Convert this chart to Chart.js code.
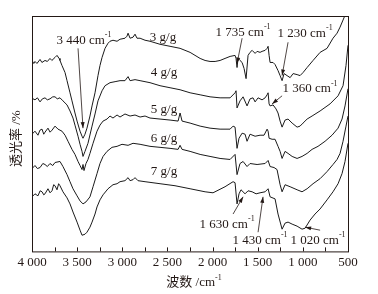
<!DOCTYPE html>
<html>
<head>
<meta charset="utf-8">
<script src="https://cdn.jsdelivr.net/npm/chart.js@4.4.1/dist/chart.umd.min.js"></script>
<style>
  html, body { margin: 0; padding: 0; background: #fff; }
  #wrap { width: 378px; height: 294px; }
</style>
</head>
<body>
<div id="wrap"><canvas id="ftir" width="378" height="294"></canvas></div>
<script>
// FTIR spectra, [wavenumber cm-1, transmittance (offset, arb. units)]
const spec3 = [[4000,189],[3980,186],[3967,188],[3945,186],[3911,190],[3890,187],[3856,189],[3830,188],[3801,191],[3780,189],[3745,192],[3723,194],[3700,191],[3690,189],[3668,184],[3634,177],[3612,169],[3579,157],[3557,149],[3524,137],[3501,129],[3468,119],[3446,114],[3435,112],[3413,116],[3391,122],[3358,134],[3335,144],[3302,157],[3269,174],[3247,184],[3224,192],[3191,201],[3158,206],[3136,208],[3103,209],[3058,208],[3025,210],[2970,211],[2948,213],[2936,216],[2914,211],[2881,212],[2859,215],[2837,211],[2803,211],[2748,209],[2693,208],[2582,205],[2471,203],[2360,201],[2249,197],[2138,191],[2083,189],[2028,188],[1972,188],[1917,189],[1862,191],[1806,193],[1751,194],[1740,191],[1729,182],[1718,191],[1696,189],[1673,187],[1651,181],[1629,171],[1607,194],[1585,197],[1562,199],[1529,196],[1507,198],[1474,197],[1452,198],[1418,199],[1396,201],[1385,203],[1374,194],[1363,187],[1330,187],[1308,185],[1275,179],[1252,174],[1230,169],[1208,176],[1175,174],[1141,172],[1108,176],[1064,175],[1031,174],[998,177],[953,182],[887,189],[809,197],[732,201],[666,211],[621,216],[588,222],[555,229],[527,235]];

const spec4 = [[4000,149],[3985,151],[3967,150],[3940,152],[3911,148],[3885,151],[3856,152],[3830,150],[3801,151],[3770,153],[3745,153],[3720,151],[3690,152],[3657,149],[3612,145],[3579,139],[3546,132],[3524,125],[3490,114],[3468,106],[3446,99],[3435,94],[3413,99],[3380,107],[3335,124],[3302,136],[3269,149],[3224,159],[3191,164],[3136,167],[3080,168],[3025,169],[2970,169],[2936,173],[2914,169],[2859,170],[2803,169],[2693,167],[2582,164],[2471,162],[2360,160],[2249,157],[2138,155],[2028,153],[1917,152],[1806,152],[1751,157],[1740,159],[1729,142],[1696,149],[1662,153],[1618,144],[1585,151],[1552,152],[1529,148],[1496,152],[1452,150],[1418,152],[1396,155],[1385,157],[1374,146],[1363,144],[1330,145],[1297,141],[1275,137],[1252,129],[1230,123],[1197,130],[1164,131],[1119,127],[1064,123],[1031,124],[998,127],[953,131],[898,134],[809,139],[699,146],[610,154],[555,164],[522,184],[500,204]];

const spec5 = [[4000,116],[3967,119],[3934,115],[3912,120],[3889,121],[3870,116],[3856,118],[3823,122],[3800,118],[3778,120],[3745,124],[3712,121],[3668,119],[3634,115],[3601,109],[3557,101],[3524,96],[3490,89],[3468,85],[3446,81],[3435,86],[3424,80],[3402,87],[3380,91],[3358,97],[3324,107],[3280,119],[3247,125],[3213,129],[3169,131],[3136,134],[3103,132],[3058,135],[3025,133],[2970,136],[2914,134],[2859,135],[2803,133],[2748,134],[2693,132],[2582,131],[2471,130],[2382,129],[2360,137],[2338,129],[2249,127],[2138,124],[2028,122],[1917,121],[1806,121],[1773,124],[1751,123],[1729,102],[1707,112],[1673,117],[1640,116],[1618,109],[1585,116],[1529,114],[1474,115],[1430,115],[1396,121],[1385,119],[1374,112],[1341,111],[1308,111],[1275,104],[1252,99],[1230,92],[1197,99],[1164,97],[1119,94],[1064,92],[1009,94],[953,97],[898,101],[832,104],[754,109],[677,115],[610,122],[566,131],[533,144],[500,161]];

const spec6 = [[4000,82],[3967,85],[3940,82],[3911,83],[3880,87],[3856,86],[3830,84],[3801,87],[3770,85],[3745,88],[3690,89],[3657,84],[3612,76],[3579,69],[3546,62],[3501,55],[3468,50],[3435,47],[3402,49],[3358,54],[3324,64],[3280,77],[3247,87],[3213,94],[3169,99],[3114,103],[3058,104],[3003,106],[2936,105],[2881,107],[2803,106],[2693,104],[2582,103],[2471,102],[2382,101],[2360,105],[2338,101],[2249,99],[2138,96],[2028,94],[1917,92],[1806,91],[1751,96],[1729,76],[1696,87],[1662,89],[1618,84],[1585,87],[1507,86],[1418,87],[1385,90],[1363,84],[1319,83],[1286,81],[1252,66],[1230,59],[1197,66],[1141,64],[1064,61],[1009,59],[953,62],[887,67],[809,72],[732,79],[666,86],[621,91],[588,97],[555,109],[522,124],[500,134]];

const spec7 = [[4000,54],[3967,57],[3934,55],[3910,60],[3889,59],[3870,56],[3856,57],[3823,62],[3800,58],[3778,60],[3760,66],[3745,65],[3723,61],[3705,67],[3690,65],[3657,59],[3612,53],[3579,47],[3546,39],[3501,29],[3468,21],[3446,16],[3413,17],[3391,19],[3358,24],[3335,29],[3302,37],[3280,44],[3247,51],[3213,56],[3158,62],[3103,66],[3058,67],[3025,69],[2970,70],[2936,73],[2914,70],[2881,71],[2859,73],[2826,70],[2748,69],[2582,67],[2416,65],[2249,62],[2083,59],[1995,58],[1862,64],[1773,69],[1751,68],[1729,47],[1707,57],[1685,61],[1640,57],[1607,60],[1562,59],[1518,57],[1474,58],[1418,59],[1385,62],[1363,54],[1308,52],[1275,37],[1230,22],[1197,28],[1164,29],[1119,27],[1064,25],[1009,22],[975,23],[920,31],[865,37],[809,42],[732,51],[666,59],[610,67],[566,77],[533,89],[500,107]];

const doses = ['3 g/g', '4 g/g', '5 g/g', '6 g/g', '7 g/g'];
const xTicks = [4000, 3500, 3000, 2500, 2000, 1500, 1000, 500];

// text notes: [wavenumber, T, text, superscript]
const doseNotes = [[2549, 212], [2538, 177], [2538, 140], [2538, 112], [2538, 79]];
const peakNotes = [
  [3424, 209, '3 440 cm', '-1'],
  [1662, 217, '1 735 cm', '-1'],
  [975, 216, '1 230 cm', '-1'],
  [920, 161, '1 360 cm', '-1'],
  [1839, 27, '1 630 cm', '-1'],
  [1474, 11, '1 430 cm', '-1'],
  [832, 11, '1 020 cm', '-1']
];
// arrows: [fromWn, fromT, toWn, toT]
const peakArrows = [
  [3490, 201, 3435, 122],
  [1673, 211, 1729, 186],
  [1164, 207, 1230, 174],
  [1230, 154, 1341, 146],
  [1773, 37, 1662, 54],
  [1496, 19, 1441, 54],
  [809, 21, 975, 24]
];

const ink = '#231815';
const serif = '"Liberation Serif", "Noto Sans CJK SC", serif';

function drawSup(ctx, cx, cy, main, sup) {
  ctx.font = '13px ' + serif;
  const w1 = ctx.measureText(main).width;
  ctx.font = '8px ' + serif;
  const w2 = sup ? ctx.measureText(sup).width : 0;
  const left = cx - (w1 + w2) / 2;
  ctx.textAlign = 'left';
  ctx.textBaseline = 'middle';
  ctx.font = '13px ' + serif;
  ctx.fillText(main, left, cy);
  if (sup) {
    ctx.font = '8px ' + serif;
    ctx.fillText(sup, left + w1, cy - 5);
  }
}

function arrow(ctx, x0, y0, x1, y1) {
  ctx.beginPath();
  ctx.moveTo(x0, y0);
  ctx.lineTo(x1, y1);
  ctx.stroke();
  const ang = Math.atan2(y1 - y0, x1 - x0);
  const len = 6, half = 2;
  ctx.beginPath();
  ctx.moveTo(x1, y1);
  ctx.lineTo(x1 - len * Math.cos(ang) + half * Math.sin(ang), y1 - len * Math.sin(ang) - half * Math.cos(ang));
  ctx.lineTo(x1 - len * Math.cos(ang) - half * Math.sin(ang), y1 - len * Math.sin(ang) + half * Math.cos(ang));
  ctx.closePath();
  ctx.fill();
}

const frameAndNotes = {
  id: 'frameAndNotes',
  afterDraw(chart) {
    const { ctx, chartArea: a, scales: { x, y } } = chart;
    ctx.save();
    ctx.strokeStyle = ink;
    ctx.fillStyle = ink;
    ctx.lineWidth = 1;
    ctx.strokeRect(a.left + 0.5, a.top + 0.5, a.right - a.left, a.bottom - a.top);

    // inward ticks on the bottom axis
    x.ticks.forEach(t => {
      const px = Math.round(x.getPixelForValue(t.value)) + 0.5;
      ctx.beginPath();
      ctx.moveTo(px, a.bottom);
      ctx.lineTo(px, a.bottom - 4);
      ctx.stroke();
    });

    doseNotes.forEach((n, i) => drawSup(ctx, x.getPixelForValue(n[0]), y.getPixelForValue(n[1]), doses[i]));
    peakNotes.forEach(n => drawSup(ctx, x.getPixelForValue(n[0]), y.getPixelForValue(n[1]), n[2], n[3]));
    ctx.lineWidth = 0.8;
    peakArrows.forEach(p => arrow(ctx, x.getPixelForValue(p[0]), y.getPixelForValue(p[1]),
                                       x.getPixelForValue(p[2]), y.getPixelForValue(p[3])));

    // axis titles
    drawSup(ctx, (a.left + a.right) / 2 + 4, 283, '波数 /cm', '-1');
    ctx.translate(17, (a.top + a.bottom) / 2 + 5);
    ctx.rotate(-Math.PI / 2);
    drawSup(ctx, 0, 0, '透光率 /%');
    ctx.restore();
  }
};

const series = [spec3, spec4, spec5, spec6, spec7];

new Chart(document.getElementById('ftir'), {
  type: 'line',
  data: {
    datasets: series.map((s, i) => ({
      label: doses[i],
      data: s.map(p => ({ x: p[0], y: p[1] })),
      borderColor: '#1a1a1a',
      borderWidth: 1,
      pointRadius: 0,
      tension: 0
    }))
  },
  options: {
    responsive: false,
    animation: false,
    layout: { padding: { left: 32, right: 30, top: 16, bottom: 21 } },
    plugins: { legend: { display: false }, tooltip: { enabled: false } },
    scales: {
      x: {
        type: 'linear',
        reverse: true,
        min: 500,
        max: 4000,
        border: { display: false },
        grid: { display: false, drawTicks: false },
        ticks: {
          stepSize: 250,
          autoSkip: false,
          maxRotation: 0,
          padding: 3,
          color: ink,
          font: { family: serif, size: 13 },
          callback: v => xTicks.includes(v) ? String(v).replace(/\B(?=(\d{3})+(?!\d))/g, ' ') : ''
        }
      },
      y: {
        display: false,
        min: 0,
        max: 233
      }
    }
  },
  plugins: [frameAndNotes]
});
</script>
</body>
</html>
